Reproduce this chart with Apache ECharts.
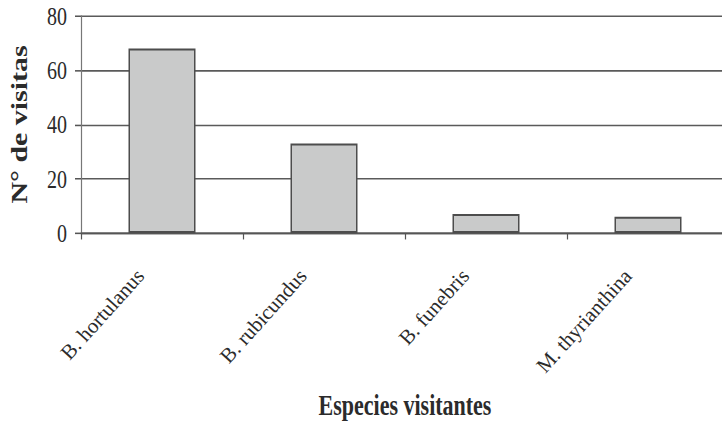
<!DOCTYPE html>
<html>
<head>
<meta charset="utf-8">
<script src="https://cdn.jsdelivr.net/npm/echarts@6/dist/echarts.min.js"></script>
<style>
  html, body { margin: 0; padding: 0; background: #fff; overflow: hidden; }
  #wrap { position: relative; width: 722px; height: 429px; overflow: hidden; background: #fff; }
  /* Main plot: drawn at 330px tall and stretched vertically for the tall, narrow type.
     The plot runs slightly past the right edge, so the canvas is wider than the frame. */
  #chart { position: absolute; left: 0; top: 0; width: 760px; height: 330px;
           transform: scaleY(1.3); transform-origin: 0 0; }
  /* Slanted category names sit on an unstretched layer so the letters stay upright */
  #labels { position: absolute; left: 0; top: 0; width: 760px; height: 429px; }
</style>
</head>
<body>
<div id="wrap"><div id="chart"></div><div id="labels"></div></div>
<script>
const categories = ['B. hortulanus', 'B. rubicundus', 'B. funebris', 'M. thyrianthina'];
const visits = [68, 33, 7, 6];
const yTicks = [0, 20, 40, 60, 80];
const xTitle = 'Especies visitantes';
const yTitle = 'N° de visitas';

const ink = '#2b2b2b';
const serif = '"Liberation Serif", "Times New Roman", serif';

const chart = echarts.init(document.getElementById('chart'), null, { renderer: 'svg' });
chart.setOption({
  animation: false,
  backgroundColor: '#fff',
  grid: { left: 79, top: 12.3, width: 650, height: 166.9, containLabel: false },
  xAxis: {
    type: 'category',
    data: categories,
    boundaryGap: true,
    name: xTitle,
    nameLocation: 'middle',
    nameGap: 122,
    nameTextStyle: { fontFamily: serif, fontWeight: 'bold', fontSize: 22, color: ink },
    axisLine: { show: true, lineStyle: { color: '#555', width: 1.2 } },
    axisTick: { show: true, length: 5, alignWithLabel: false, lineStyle: { color: '#555', width: 1.2 } },
    axisLabel: { show: false },
    splitLine: { show: false }
  },
  yAxis: {
    type: 'value',
    min: yTicks[0],
    max: yTicks[yTicks.length - 1],
    interval: yTicks[1] - yTicks[0],
    name: yTitle,
    nameLocation: 'middle',
    nameGap: 50,
    nameTextStyle: { fontFamily: serif, fontWeight: 'bold', fontSize: 23, color: ink },
    axisLine: { show: true, lineStyle: { color: '#777', width: 1.2 } },
    axisTick: { show: true, length: 6, lineStyle: { color: '#555', width: 1.2 } },
    axisLabel: { margin: 14, fontFamily: serif, fontSize: 20, color: ink },
    splitLine: { show: true, lineStyle: { color: '#5a5a5a', width: 1.2 } }
  },
  series: [{
    type: 'bar',
    data: visits,
    barWidth: 67,
    itemStyle: { color: '#c9caca', borderColor: '#4d4d4d', borderWidth: 1.5 }
  }]
});

// Same category axis at full scale, showing only the slanted names
const labels = echarts.init(document.getElementById('labels'), null, { renderer: 'svg' });
labels.setOption({
  animation: false,
  grid: { left: 79, top: 16, width: 650, height: 217, containLabel: false },
  xAxis: {
    type: 'category',
    data: categories,
    boundaryGap: true,
    axisLine: { show: false },
    axisTick: { show: false },
    splitLine: { show: false },
    axisLabel: {
      rotate: 48, margin: 17, fontFamily: serif, fontSize: 21, color: ink, interval: 0,
      padding: [0, 30, 0, 0]
    }
  },
  yAxis: { type: 'value', show: false, min: yTicks[0], max: yTicks[yTicks.length - 1] },
  series: []
});
</script>
</body>
</html>
